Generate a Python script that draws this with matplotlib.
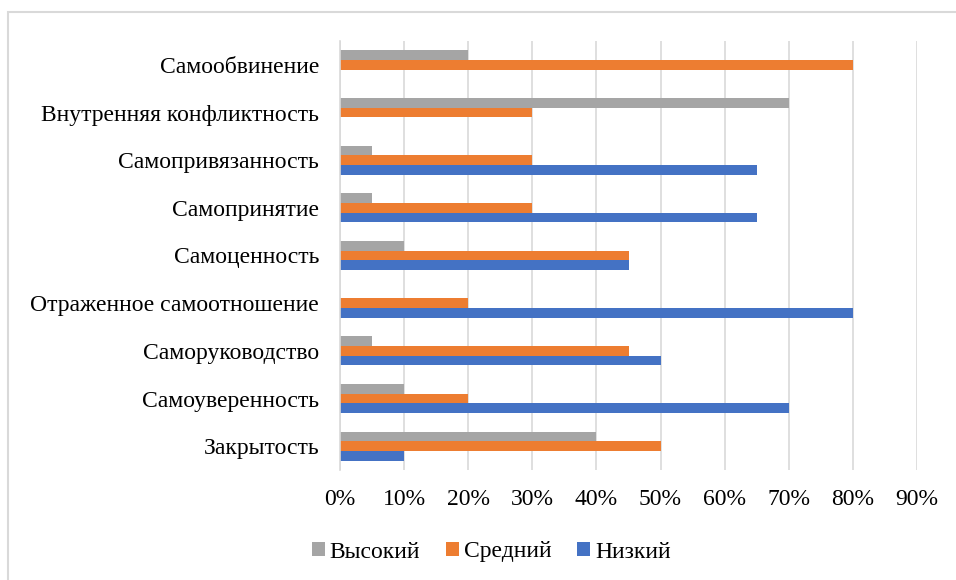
import numpy as np
import matplotlib
matplotlib.use('Agg')
import matplotlib.pyplot as plt
from matplotlib.patches import Rectangle
from matplotlib.ticker import PercentFormatter

plt.rcParams['font.family'] = ['Liberation Serif', 'DejaVu Serif']

# bottom to top
categories = ['Закрытость', 'Самоуверенность', 'Саморуководство',
              'Отраженное самоотношение', 'Самоценность', 'Самопринятие',
              'Самопривязанность', 'Внутренняя конфликтность', 'Самообвинение']
high = [40, 10, 5, 0, 10, 5, 5, 70, 20]
mid = [50, 20, 45, 20, 45, 30, 30, 30, 80]
low = [10, 70, 50, 80, 45, 65, 65, 0, 0]

fig = plt.figure(figsize=(9.56, 5.8), dpi=100)
ax = fig.add_axes([340 / 956, 1 - 470 / 580, 577 / 956, 429 / 580])

y = np.arange(len(categories))
h = 0.205
ax.barh(y + h, high, height=h, color='#A5A5A5', label='Высокий')
ax.barh(y, mid, height=h, color='#ED7D31', label='Средний')
ax.barh(y - h, low, height=h, color='#4472C4', label='Низкий')

ax.set_xlim(0, 90)
ax.set_ylim(-0.5, len(categories) - 0.5)
ax.set_xticks(range(0, 91, 10))
ax.xaxis.set_major_formatter(PercentFormatter(decimals=0))
ax.set_yticks(y)
ax.set_yticklabels(categories)
ax.tick_params(length=0, labelsize=17, colors='#000000')
ax.tick_params(axis='x', pad=14)
ax.tick_params(axis='y', pad=15)

ax.grid(axis='x', color='#D9D9D9', linewidth=1.2)
ax.set_axisbelow(True)
for s in ['top', 'right', 'bottom']:
    ax.spines[s].set_visible(False)
ax.spines['left'].set_color('#D9D9D9')
ax.spines['left'].set_linewidth(1.2)

handles, labels = ax.get_legend_handles_labels()
fig.legend(handles, labels, loc='center', bbox_to_anchor=(0.514, 1 - 552 / 580),
           ncol=3, frameon=False, fontsize=17, handlelength=0.55, handleheight=0.55,
           handletextpad=0.2, columnspacing=1.1)

# outer chart border (only top and left visible in the crop)
fig.patches.append(Rectangle((8 / 956, -0.1), 1.2, 1 - 12 / 580 + 0.1,
                             transform=fig.transFigure, fill=False,
                             edgecolor='#D9D9D9', linewidth=1.5))

fig.savefig('out.png', dpi=100)
